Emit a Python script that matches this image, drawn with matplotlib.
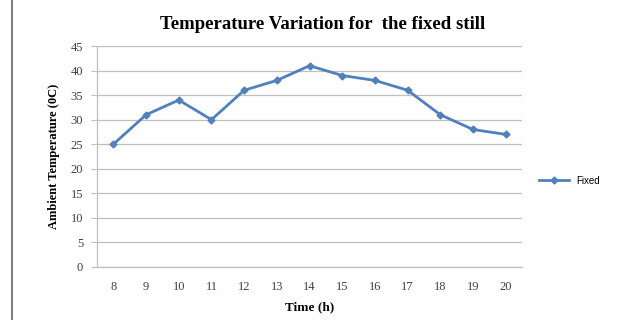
import matplotlib.pyplot as plt
from matplotlib.lines import Line2D

hours = [8, 9, 10, 11, 12, 13, 14, 15, 16, 17, 18, 19, 20]
fixed_temp = [25, 31, 34, 30, 36, 38, 41, 39, 38, 36, 31, 28, 27]
y_ticks = [0, 5, 10, 15, 20, 25, 30, 35, 40, 45]

blue = '#4F81BD'
grid_col = '#BFBFBF'

fig = plt.figure(figsize=(6.26, 3.2), dpi=100)
ax = fig.add_axes([0.155, 0.166, 0.679, 0.690])

pos = list(range(len(hours)))
ax.plot(pos, fixed_temp, color=blue, lw=2, marker='D', ms=3.5,
        label='Fixed')

ax.set_xlim(-0.5, len(hours) - 0.5)
ax.set_ylim(0, 45)
ax.set_yticks(y_ticks)
ax.set_xticks(pos)
ax.set_xticklabels([str(h) for h in hours])

ax.yaxis.grid(True, color=grid_col, lw=0.9)
ax.set_axisbelow(True)
for side in ['top', 'right']:
    ax.spines[side].set_visible(False)
for side in ['left', 'bottom']:
    ax.spines[side].set_color(grid_col)
    ax.spines[side].set_linewidth(0.9)

ax.tick_params(axis='y', length=4, color=grid_col, labelcolor='#404040',
               pad=6)
ax.tick_params(axis='x', length=0, labelcolor='#404040', pad=10)
for lbl in ax.get_xticklabels() + ax.get_yticklabels():
    lbl.set_fontfamily('Liberation Serif')
    lbl.set_fontsize(9)

ax.set_title('Temperature Variation for  the fixed still',
             fontfamily='Liberation Serif', fontweight='bold', fontsize=13.5,
             pad=12, x=0.53)
ax.set_xlabel('Time (h)', fontfamily='Liberation Serif', fontweight='bold',
              fontsize=9.5, labelpad=6)
ax.set_ylabel('Ambient Temperature (0C)', fontfamily='Liberation Serif',
              fontweight='bold', fontsize=9, labelpad=8)

ax.legend(loc='center left', bbox_to_anchor=(1.02, 0.39), frameon=False,
          handlelength=3, prop={'family': 'Liberation Sans', 'size': 7})

# thin border line on the left edge
fig.add_artist(Line2D([0.019, 0.019], [0.0, 1.0], color='#808080', lw=1.5,
                      transform=fig.transFigure))

fig.savefig('out.png', dpi=100)
